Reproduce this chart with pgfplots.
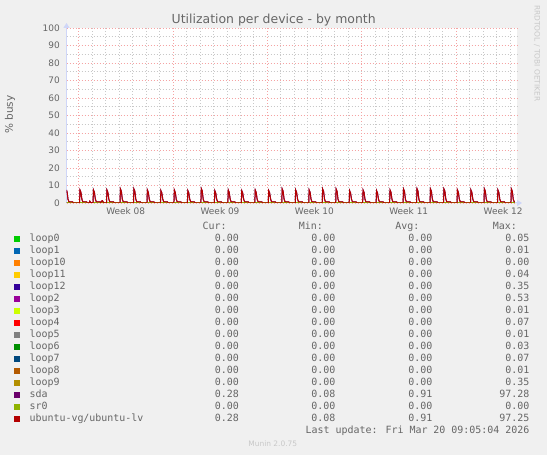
\documentclass[border=0pt]{standalone}
\usepackage{fontspec}
\setmainfont{DejaVu Sans}
\newfontfamily\mono{DejaVu Sans Mono}
\usepackage{pgfplots}
\pgfplotsset{compat=1.18}
\usepackage{pgfplotstable}
\usetikzlibrary{arrows.meta}

% axis lines above the plotted lines, as rrdtool draws them
\pgfplotsset{
  layers/rrd/.define layer set={axis background,axis grid,axis ticks,axis tick labels,main,axis lines,axis descriptions,axis foreground}{},
}

\definecolor{backcol}{HTML}{F0F0F0}
\definecolor{fontcol}{HTML}{666666}
\definecolor{axiscol}{HTML}{CFD6F8}
\definecolor{gridcol}{HTML}{C8C8C8}
\definecolor{mgridcol}{HTML}{F5A3A3}
\definecolor{faint}{HTML}{C8C8C8}
\definecolor{cloopA}{HTML}{00CC00}
\definecolor{cloopB}{HTML}{0066B3}
\definecolor{cloopC}{HTML}{FF8000}
\definecolor{cloopD}{HTML}{FFCC00}
\definecolor{cloopE}{HTML}{330099}
\definecolor{cloopF}{HTML}{990099}
\definecolor{cloopG}{HTML}{CCFF00}
\definecolor{cloopH}{HTML}{FF0000}
\definecolor{cloopI}{HTML}{808080}
\definecolor{cloopJ}{HTML}{008F00}
\definecolor{cloopK}{HTML}{00487D}
\definecolor{cloopL}{HTML}{B35A00}
\definecolor{cloopM}{HTML}{B38F00}
\definecolor{csda}{HTML}{6B006B}
\definecolor{csr}{HTML}{8FB300}
\definecolor{clv}{HTML}{B30000}

% x in days, 0 = Mon 16 Feb 00:00; busy in percent (2 h averages)
\pgfplotstableread{
x y
-0.89 7.4
-0.84 6.1
-0.78 2.2
-0.71 0.7
-0.45 0.7
-0.39 0.12
0.08 0.12
0.11 7.4
0.18 6.1
0.25 2.2
0.32 0.7
0.59 0.7
0.65 0.12
0.80 0.12
0.84 1.0
0.90 0.3
1.08 0.12
1.11 7.4
1.18 6.1
1.25 2.2
1.32 0.7
1.59 0.7
1.65 0.12
1.72 1.1
1.78 1.3
1.84 0.4
1.90 0.12
2.08 0.12
2.11 7.4
2.18 6.1
2.25 2.2
2.32 0.7
2.59 0.7
2.65 0.12
3.08 0.12
3.11 8.0
3.18 6.7
3.25 2.2
3.32 0.7
3.59 0.7
3.65 0.12
4.08 0.12
4.11 8.0
4.18 6.7
4.25 2.2
4.32 0.7
4.59 0.7
4.65 0.12
5.08 0.12
5.11 7.4
5.18 6.1
5.25 2.2
5.32 0.7
5.59 0.7
5.65 0.12
6.08 0.12
6.11 7.05
6.18 5.75
6.25 2.2
6.32 0.7
6.59 0.7
6.65 0.12
7.08 0.12
7.11 7.4
7.18 6.1
7.25 2.2
7.32 0.7
7.59 0.7
7.65 0.12
8.08 0.12
8.11 7.05
8.18 5.75
8.25 2.2
8.32 0.7
8.59 0.7
8.65 0.12
9.08 0.12
9.11 8.2
9.18 6.9
9.25 2.2
9.32 0.7
9.59 0.7
9.65 0.12
10.08 0.12
10.11 7.05
10.18 5.75
10.25 2.2
10.32 0.7
10.59 0.7
10.65 0.12
11.08 0.12
11.11 7.4
11.18 6.1
11.25 2.2
11.32 0.7
11.59 0.7
11.65 0.12
12.08 0.12
12.11 7.05
12.18 5.75
12.25 2.2
12.32 0.7
12.59 0.7
12.65 0.12
13.08 0.12
13.11 7.4
13.18 6.1
13.25 2.2
13.32 0.7
13.59 0.7
13.65 0.12
14.08 0.12
14.11 7.05
14.18 5.75
14.25 2.2
14.32 0.7
14.59 0.7
14.65 0.12
15.08 0.12
15.11 8.0
15.18 6.7
15.25 2.2
15.32 0.7
15.59 0.7
15.65 0.12
16.08 0.12
16.11 7.4
16.18 6.1
16.25 2.2
16.32 0.7
16.59 0.7
16.65 0.12
17.08 0.12
17.11 7.4
17.18 6.1
17.25 2.2
17.32 0.7
17.59 0.7
17.65 0.12
18.08 0.12
18.11 8.0
18.18 6.7
18.25 2.2
18.32 0.7
18.59 0.7
18.65 0.12
19.08 0.12
19.11 8.0
19.18 6.7
19.25 2.2
19.32 0.7
19.59 0.7
19.65 0.12
20.08 0.12
20.11 7.05
20.18 5.75
20.25 2.2
20.32 0.7
20.59 0.7
20.65 0.12
21.08 0.12
21.11 7.4
21.18 6.1
21.25 2.2
21.32 0.7
21.59 0.7
21.65 0.12
22.08 0.12
22.11 7.05
22.18 5.75
22.25 2.2
22.32 0.7
22.59 0.7
22.65 0.12
23.08 0.12
23.11 7.4
23.18 6.1
23.25 2.2
23.32 0.7
23.59 0.7
23.65 0.12
24.08 0.12
24.11 8.0
24.18 6.7
24.25 2.2
24.32 0.7
24.59 0.7
24.65 0.12
25.08 0.12
25.11 8.2
25.18 6.9
25.25 2.2
25.32 0.7
25.59 0.7
25.65 0.12
26.08 0.12
26.11 8.0
26.18 6.7
26.25 2.2
26.32 0.7
26.59 0.7
26.65 0.12
27.08 0.12
27.11 8.0
27.18 6.7
27.25 2.2
27.32 0.7
27.59 0.7
27.65 0.12
28.08 0.12
28.11 7.4
28.18 6.1
28.25 2.2
28.32 0.7
28.59 0.7
28.65 0.12
29.08 0.12
29.11 7.4
29.18 6.1
29.25 2.2
29.32 0.7
29.59 0.7
29.65 0.12
30.08 0.12
30.11 8.0
30.18 6.7
30.25 2.2
30.32 0.7
30.59 0.7
30.65 0.12
31.08 0.12
31.11 7.4
31.18 6.1
31.25 2.2
31.32 0.7
31.59 0.7
31.65 0.12
32.08 0.12
32.11 8.0
32.18 6.7
32.25 2.2
32.32 0.7
32.38 0.7
}\busy

\begin{document}
\begin{tikzpicture}[x=1bp,y=1bp]
\fill[backcol] (0,0) rectangle (547,455);
\coordinate (plotSW) at (66.5,252);

\begin{axis}[
  set layers=rrd,
  at={(plotSW)}, anchor=south west,
  width=450.5bp, height=175bp, scale only axis,
  xmin=-0.89, xmax=32.53, ymin=0, ymax=100,
  axis background/.style={fill=white},
  axis lines=left,
  axis line style={draw=axiscol, line width=1bp},
  x axis line style={-{Triangle[length=5bp,width=6bp]}, shorten >=-5bp},
  y axis line style={-{Triangle[length=5bp,width=6bp]}, shorten >=-5bp},
  xtick={0,7,14,21,28}, xticklabels={},
  minor xtick={1,2,3,4,5,6,8,9,10,11,12,13,15,16,17,18,19,20,22,23,24,25,26,27,29,30,31,32},
  extra x ticks={3.5,10.5,17.5,24.5,31.5},
  extra x tick labels={Week 08,Week 09,Week 10,Week 11,Week 12},
  extra x tick style={grid=none, major tick length=0pt},
  ytick={0,10,...,100},
  minor ytick={5,15,...,95},
  grid=both,
  major grid style={draw=mgridcol, line width=0.55bp, dash pattern=on 1bp off 2bp},
  minor grid style={draw=gridcol, line width=0.55bp, dash pattern=on 1bp off 2bp},
  major tick length=0pt, minor tick length=0pt,
  ticklabel style={font=\fontsize{9}{9}\selectfont, text=fontcol},
  yticklabel style={anchor=east, inner sep=0pt, xshift=-6.5bp},
  xticklabel style={anchor=base, inner sep=0pt, yshift=-12bp},
  /pgf/number format/assume math mode=true,
  every axis plot/.append style={line width=1bp, no markers},
]
  \addplot[cloopA] coordinates {(-0.89,0) (32.38,0)};
  \addplot[cloopB] coordinates {(-0.89,0) (32.38,0)};
  \addplot[cloopC] coordinates {(-0.89,0) (32.38,0)};
  \addplot[cloopD] coordinates {(-0.89,0) (32.38,0)};
  \addplot[cloopE] coordinates {(-0.89,0) (32.38,0)};
  \addplot[cloopF] coordinates {(-0.89,0) (32.38,0)};
  \addplot[cloopG] coordinates {(-0.89,0) (32.38,0)};
  \addplot[cloopH] coordinates {(-0.89,0) (32.38,0)};
  \addplot[cloopI] coordinates {(-0.89,0) (32.38,0)};
  \addplot[cloopJ] coordinates {(-0.89,0) (32.38,0)};
  \addplot[cloopK] coordinates {(-0.89,0) (32.38,0)};
  \addplot[cloopL] coordinates {(-0.89,0) (32.38,0)};
  \addplot[cloopM] coordinates {(-0.89,0) (32.38,0)};
  \addplot[csda] table[x=x, y=y] {\busy};
  \addplot[csr] coordinates {(-0.89,0) (32.38,0)};
  \addplot[clv] table[x=x, y=y] {\busy};
\end{axis}

% title, axis label, watermark
\node[anchor=base, font=\fontsize{12.5}{12.5}\selectfont, text=fontcol] at (273.7,431) {Utilization per device - by month};
\node[rotate=90, font=\fontsize{10.5}{10.5}\selectfont, text=fontcol] at (10,340.2) {\% busy};
\node[rotate=-90, font=\fontsize{7.5}{7.5}\selectfont, text=faint] at (537,401.7) {RRDTOOL / TOBI OETIKER};

% legend
\begin{scope}[font=\mono\fontsize{10}{10}\selectfont, text=fontcol]
  \node[anchor=base east] at (230.2,225.3) {Cur:};
  \node[anchor=base east] at (326.5,225.3) {Min:};
  \node[anchor=base east] at (423,225.3) {Avg:};
  \node[anchor=base east] at (520.4,225.3) {Max:};
  \foreach \name/\col/\cur/\mn/\av/\mx [count=\i from 0] in {
      loop0/cloopA/0.00/0.00/0.00/0.05,
      loop1/cloopB/0.00/0.00/0.00/0.01,
      loop10/cloopC/0.00/0.00/0.00/0.00,
      loop11/cloopD/0.00/0.00/0.00/0.04,
      loop12/cloopE/0.00/0.00/0.00/0.35,
      loop2/cloopF/0.00/0.00/0.00/0.53,
      loop3/cloopG/0.00/0.00/0.00/0.01,
      loop4/cloopH/0.00/0.00/0.00/0.07,
      loop5/cloopI/0.00/0.00/0.00/0.01,
      loop6/cloopJ/0.00/0.00/0.00/0.03,
      loop7/cloopK/0.00/0.00/0.00/0.07,
      loop8/cloopL/0.00/0.00/0.00/0.01,
      loop9/cloopM/0.00/0.00/0.00/0.35,
      sda/csda/0.28/0.08/0.91/97.28,
      sr0/csr/0.00/0.00/0.00/0.00,
      {ubuntu-vg/ubuntu-lv}/clv/0.28/0.08/0.91/97.25} {
    \pgfmathsetmacro{\yb}{213.3-12*\i}
    \fill[\col] (14,\yb-0.8) rectangle (20,\yb+5.2);
    \node[anchor=base west] at (26,\yb) {\name};
    \node[anchor=base east] at (242.4,\yb) {\cur};
    \node[anchor=base east] at (339,\yb) {\mn};
    \node[anchor=base east] at (436,\yb) {\av};
    \node[anchor=base east] at (533,\yb) {\mx};
  }
  \node[anchor=base east] at (533,21.3) {Last update: Fri Mar 20 09:05:04 2026};
\end{scope}
\node[anchor=base, font=\fontsize{7.5}{7.5}\selectfont, text=faint] at (272.8,8.3) {Munin 2.0.75};

\pgfresetboundingbox
\useasboundingbox (0,0) rectangle (547,455);
\end{tikzpicture}
\end{document}
